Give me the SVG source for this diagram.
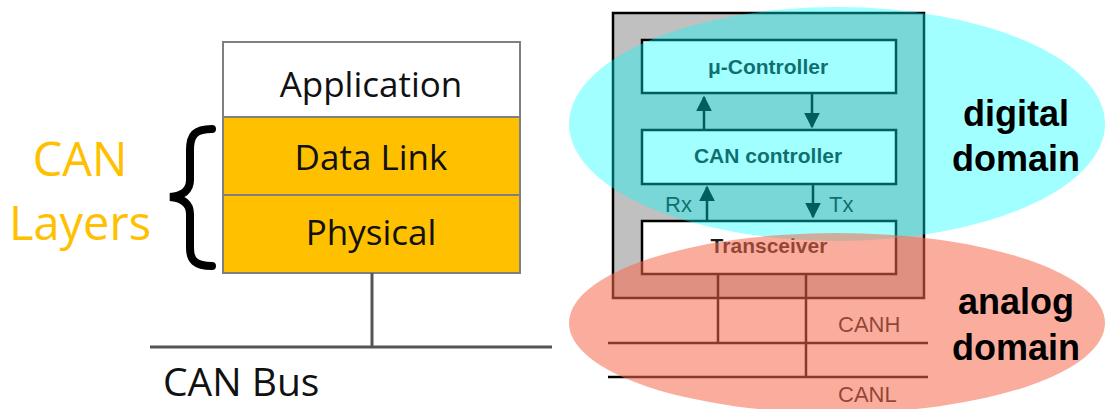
<svg xmlns="http://www.w3.org/2000/svg" width="1106" height="409" viewBox="0 0 1106 409">
<style>
.layer{stroke:#7f7f7f;stroke-width:2}
.lt{font-family:"Open Sans","Liberation Sans",sans-serif;font-size:35px;fill:#111;text-anchor:middle}
.orange{font-family:"Open Sans","Liberation Sans",sans-serif;font-size:47px;fill:#ffc000;text-anchor:middle}
.box{fill:#fff;stroke:#000;stroke-width:2.5}
.bt{font-family:"Liberation Sans",Arial,sans-serif;font-weight:bold;font-size:21px;fill:#1a1a1a;text-anchor:middle}
.st{font-family:"Liberation Sans",Arial,sans-serif;font-size:22px;fill:#1a1a1a}
.wire{stroke:#000;stroke-width:2.5;fill:none}
.dom{font-family:"Liberation Sans",Arial,sans-serif;font-weight:bold;font-size:36px;fill:#000;text-anchor:middle}
</style>
<defs>
<marker id="ah" viewBox="0 0 10 10" refX="9" refY="5" markerWidth="6.4" markerHeight="6.4" orient="auto" markerUnits="strokeWidth">
<path d="M0,0 L10,5 L0,10 Z" fill="#000"/>
</marker>
</defs>
<rect width="1106" height="409" fill="#fff"/>

<!-- left stack -->
<g id="application"><rect class="layer" x="223" y="42" width="297" height="75" fill="#fff"/><text class="lt" x="371" y="97">Application</text></g>
<g id="datalink"><rect class="layer" x="223" y="117" width="297" height="78" fill="#ffc000"/><text class="lt" x="371" y="170">Data Link</text></g>
<g id="physical"><rect class="layer" x="223" y="195" width="297" height="78" fill="#ffc000"/><text class="lt" x="371" y="245">Physical</text></g>
<g id="canlayers"><text class="orange" x="80" y="176">CAN</text><text class="orange" x="80" y="240">Layers</text>
<path d="M212,129 C195,129 190,135 190,150 L190,180 C190,190 183,196 170,197 C183,198 190,204 190,214 L190,248 C190,260 195,266 212,266" fill="none" stroke="#000" stroke-width="8" stroke-linecap="round"/></g>
<g id="canbus"><line x1="150" y1="347" x2="552" y2="347" stroke="#555" stroke-width="3"/><line x1="372" y1="273" x2="372" y2="347" stroke="#555" stroke-width="3"/><text x="163" y="396" font-family="Open Sans,Liberation Sans,sans-serif" font-size="39" fill="#111">CAN Bus</text></g>

<!-- right -->
<g id="node"><rect x="613" y="13" width="311" height="285" fill="#c0c0c0" stroke="#000" stroke-width="2.5"/></g>
<g id="ucontroller"><rect class="box" x="642" y="40" width="254" height="53"/><text class="bt" x="768" y="74">μ-Controller</text></g>
<g id="cancontroller"><rect class="box" x="642" y="130" width="254" height="54"/><text class="bt" x="768" y="163">CAN controller</text></g>
<g id="transceiver"><rect class="box" x="642" y="221" width="254" height="53"/><text class="bt" x="769" y="253">Transceiver</text></g>
<g id="connectors">
<line class="wire" x1="704" y1="130" x2="704" y2="97" marker-end="url(#ah)"/>
<line class="wire" x1="812" y1="93" x2="812" y2="127" marker-end="url(#ah)"/>
<line class="wire" x1="707" y1="221" x2="707" y2="187" marker-end="url(#ah)"/>
<line class="wire" x1="813" y1="184" x2="813" y2="217" marker-end="url(#ah)"/>
<line class="wire" x1="718" y1="274" x2="718" y2="343"/>
<line class="wire" x1="806" y1="274" x2="806" y2="377"/>
<line class="wire" x1="608" y1="343" x2="928" y2="343"/>
<line class="wire" x1="608" y1="377" x2="928" y2="377"/>
</g>
<g id="labels">
<text class="st" x="665" y="212">Rx</text>
<text class="st" x="829" y="212">Tx</text>
<text class="st" x="838" y="332">CANH</text>
<text class="st" x="838" y="402">CANL</text>
</g>
<g id="digital"><ellipse cx="837" cy="124" rx="268" ry="117" fill="#00ffff" fill-opacity="0.37"/></g>
<g id="analog"><ellipse cx="837" cy="323" rx="268" ry="90" fill="#f56a4c" fill-opacity="0.55"/></g>
<g id="domainlabels">
<text class="dom" x="1016" y="126">digital</text>
<text class="dom" x="1016" y="171">domain</text>
<text class="dom" x="1016" y="314">analog</text>
<text class="dom" x="1016" y="360">domain</text>
</g>
</svg>
